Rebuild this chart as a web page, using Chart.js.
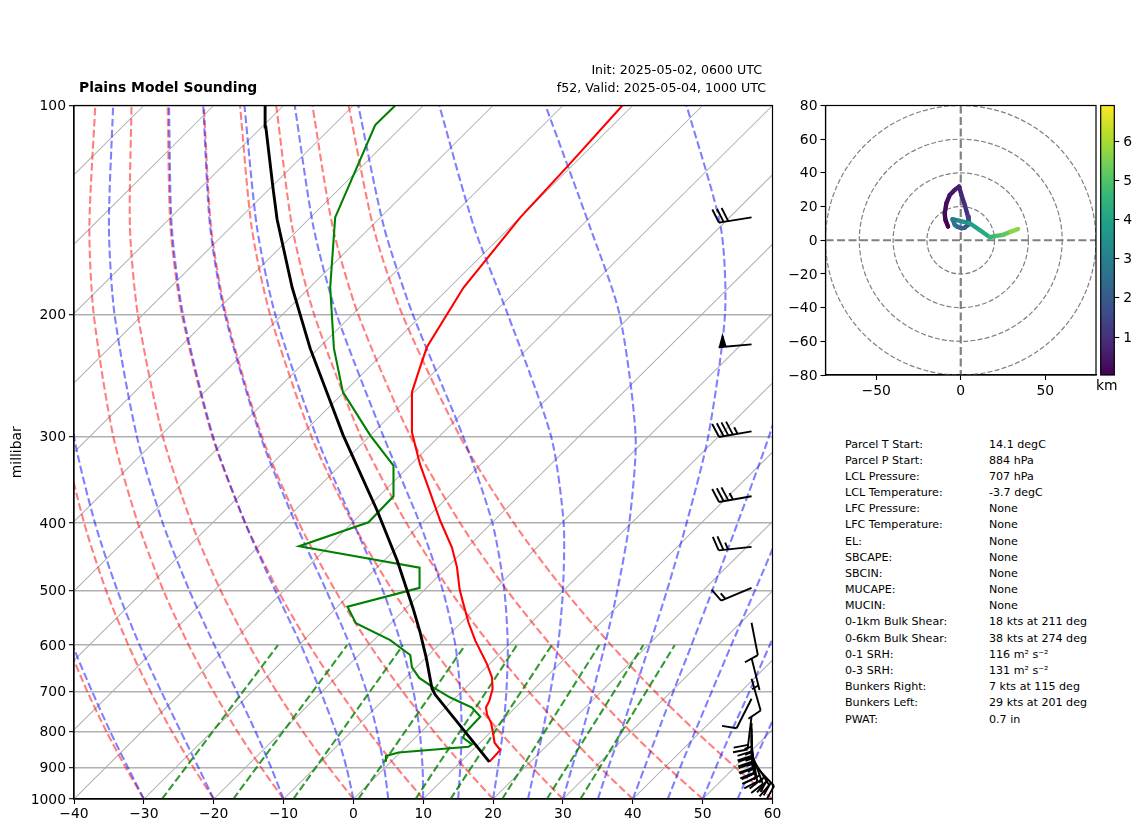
<!DOCTYPE html>
<html>
<head>
<meta charset="utf-8">
<script src="https://cdn.jsdelivr.net/npm/chart.js@4"></script>
<style>
    body { margin: 0; background: #fff; font-family: "DejaVu Sans", sans-serif; color: #000; }
    canvas { position: absolute; top: 0; }
    .txt { position: absolute; white-space: nowrap; }
</style>
</head>
<body>
<canvas id="skewChart" width="800" height="832" style="left:0"></canvas>
<canvas id="hodoChart" width="325" height="400" style="left:780px"></canvas>
<canvas id="barChart" width="52" height="400" style="left:1090px"></canvas>
<div class="txt" style="left:79px;top:79px;font-size:13.9px;font-weight:bold">Plains Model Sounding</div>
<div class="txt" style="right:380px;top:62px;font-size:12.6px">Init: 2025-05-02, 0600 UTC</div>
<div class="txt" style="right:376px;top:80px;font-size:12.6px">f52, Valid: 2025-05-04, 1000 UTC</div>
<div class="txt" style="left:1096px;top:377px;font-size:13.9px">km</div>
<div id="stats"></div>

<script>
// x values are read straight off the skewed bottom axis, not real temperature
const pressureTicks = [100, 200, 300, 400, 500, 600, 700, 800, 900, 1000];
const tempTicks = [-40, -30, -20, -10, 0, 10, 20, 30, 40, 50, 60];

const tempP = [884, 850, 829.5, 802, 776, 755, 738, 722, 694, 668, 639, 591, 557, 518, 498, 463, 434, 397, 351, 329, 296, 259, 238, 223, 183, 145, 122.6, 100];
const tempX = [19.46, 21.03, 20.21, 19.98, 19.7, 19.13, 18.98, 19.46, 19.93, 19.84, 19.13, 17.45, 16.49, 15.63, 15.2, 14.83, 14.11, 12.43, 10.53, 9.53, 8.38, 8.38, 9.57, 10.53, 15.77, 23.9, 30.59, 38.51];

const dewP = [884, 867, 857, 841, 834, 816, 802, 761, 738, 714, 691, 669, 646, 620, 590, 558, 528, 496, 464, 432, 399, 366, 330.5, 299, 259, 224, 183, 145, 106.7, 100];
const dewX = [4.66, 4.66, 6.46, 16.49, 16.98, 15.69, 16.02, 18.17, 16.98, 13.87, 11.48, 9.43, 8.38, 8.14, 5.27, 0.36, -0.85, 9.47, 9.47, -7.77, 2.16, 5.74, 5.74, 2.41, -1.5, -2.79, -3.32, -2.61, 3.12, 5.99];

const parcelP = [884, 707, 693, 626, 576, 532, 453, 384, 299, 260, 224, 183, 146, 132, 107.4, 100];
const parcelX = [19.46, 11.7, 11.25, 10.43, 9.57, 8.57, 6.27, 3.41, -1.46, -3.75, -6.19, -8.77, -10.92, -11.49, -12.54, -12.64];

// background curves, all share these levels
const curveLevels = [1000, 900, 800, 700, 600, 500, 400, 300, 200, 150, 100];
const dryAdiabats = [
    [-30, -32.63, -35.34, -38.09, -40.86, -43.62, -46.24, -48.56, -49.8, -49.42, -47.31],
    [-20, -22.93, -25.96, -29.06, -32.22, -35.42, -38.55, -41.47, -43.49, -43.61, -42.13],
    [-10, -13.23, -16.58, -20.03, -23.58, -27.22, -30.86, -34.38, -37.18, -37.8, -36.95],
    [0, -3.53, -7.2, -11, -14.94, -19.02, -23.17, -27.29, -30.87, -31.99, -31.77],
    [10, 6.17, 2.18, -1.97, -6.3, -10.82, -15.48, -20.2, -24.56, -26.18, -26.59],
    [20, 15.87, 11.56, 7.06, 2.34, -2.62, -7.79, -13.11, -18.25, -20.37, -21.41],
    [30, 25.57, 20.94, 16.09, 10.98, 5.58, -0.1, -6.02, -11.94, -14.56, -16.23],
    [40, 35.27, 30.32, 25.12, 19.62, 13.78, 7.59, 1.07, -5.63, -8.75, -11.05],
    [50, 44.97, 39.7, 34.15, 28.26, 21.98, 15.28, 8.16, 0.68, -2.94, -5.87],
    [60, 54.67, 49.08, 43.18, 36.9, 30.18, 22.97, 15.25, 6.99, 2.87, -0.69]
];
const moistAdiabats = [
    [-30, -32.3, -34.8, -37.4, -40.2, -42.9, -45.6, -47.9, -49.2, -48.9, -46.8],
    [-20, -22.2, -24.7, -27.5, -30.6, -33.8, -37, -40, -42.1, -42.4, -41],
    [-10, -11.8, -14, -16.7, -19.9, -23.5, -27.3, -31, -34.2, -35, -34.4],
    [0, -1, -2.5, -4.7, -7.5, -11.2, -15.5, -20.1, -24.4, -26, -26.4],
    [5, 4.4, 3.4, 1.9, -0.5, -3.9, -8.3, -13.3, -18.4, -20.5, -21.5],
    [10, 9.9, 9.5, 8.6, 6.9, 4.2, 0, -5.3, -11.2, -13.8, -15.6],
    [15, 15.3, 15.5, 15.3, 14.6, 12.8, 9.5, 4.3, -2.4, -5.7, -8.4],
    [20, 20.7, 21.4, 21.9, 22.1, 21.6, 19.9, 15.7, 8.5, 4.4, 0.7],
    [25, 26, 27.1, 28.2, 29.3, 30, 30.1, 28.3, 22.1, 17.3, 12.3],
    [30, 31.3, 32.8, 34.3, 36, 37.8, 39.5, 40.4, 38.1, 33.9, 27.5],
    [35, 36.5, 38.3, 40.2, 42.4, 44.9, 47.7, 50.8, 53.2, 52.6, 47.7],
    [40, 41.7, 43.6, 45.8, 48.4, 51.4, 55, 59.5, 65.1, 68.2, 69.8],
    [45, 46.8, 48.9, 51.3, 54.1, 57.5, 61.6, 66.9, 74.4, 79.4, 85.7],
    [50, 51.9, 54.1, 56.7, 59.6, 63.2, 67.7, 73.5, 81.9, 88, 96.4],
    [55, 57, 59.3, 61.9, 65, 68.7, 73.4, 79.6, 88.5, 95, 104.4]
];
// mixing ratio lines: bottom and top position
const mixingLevels = [1000, 600];
const mixingBottom = [-27.4, -17.2, -8.6, 0.7, 8.9, 13.9, 21.3, 27.7, 32.5];
const mixingTop = [-10.8, -0.9, 7.1, 16, 23.4, 28.4, 35.2, 41.5, 46];
// isotherms, x at 1000 hPa
const isotherms = [-130, -120, -110, -100, -90, -80, -70, -60, -50, -40, -30, -20, -10, 0, 10, 20, 30, 40, 50];

const barbP = [145, 221, 295, 366, 433, 496, 557, 626, 671, 717, 761, 777, 792, 808, 822, 836, 847, 858, 870, 884];
const barbSpeed = [30, 50, 45, 35, 25, 15, 10, 5, 10, 10, 20, 25, 25, 25, 25, 25, 25, 25, 25, 30];
const barbDir = [261, 265, 260, 260, 264, 247, 169, 166, 164, 207, 187, 180, 179, 178, 176, 173, 170, 160, 148, 137];

const hodoU = [-7.5, -9.07, -9.5, -8.48, -6.5, -3.55, -1, 0.39, 2.37, 4.3, 4.73, 4.3, 2.37, 0.4, -2.17, -3.5, -4.9, -0.6, 5.3, 11.2, 17.2, 21.1, 25, 29.4, 33.9];
const hodoV = [8.1, 12.1, 16, 22, 26.9, 29.9, 31.9, 26.9, 21, 14, 11.1, 9.1, 7.5, 7.1, 8.1, 9.1, 12.5, 11.5, 10.1, 6.1, 1.8, 2.6, 3.2, 5, 6.7];
const hodoKm = [0.05, 0.12, 0.2, 0.3, 0.4, 0.55, 0.7, 0.85, 1, 1.4, 1.6, 1.8, 2, 2.2, 2.4, 2.6, 3, 3.5, 3.9, 4.2, 4.6, 4.9, 5.2, 5.7, 6.1];
const hodoRings = [20, 40, 60, 80];
const hodoXTicks = [-50, 0, 50];
const kmTicks = [1, 2, 3, 4, 5, 6];

const statLabels = ["Parcel T Start:", "Parcel P Start:", "LCL Pressure:", "LCL Temperature:", "LFC Pressure:", "LFC Temperature:", "EL:", "SBCAPE:", "SBCIN:", "MUCAPE:", "MUCIN:", "0-1km Bulk Shear:", "0-6km Bulk Shear:", "0-1 SRH:", "0-3 SRH:", "Bunkers Right:", "Bunkers Left:", "PWAT:"];
const statValues = ["14.1 degC", "884 hPa", "707 hPa", "-3.7 degC", "None", "None", "None", "None", "None", "None", "None", "18 kts at 211 deg", "38 kts at 274 deg", "116 m² s⁻²", "131 m² s⁻²", "7 kts at 115 deg", "29 kts at 201 deg", "0.7 in"];

const viridis = ["#440154", "#482878", "#3e4989", "#31688e", "#26828e", "#1f9e89", "#35b779", "#6ece58", "#b5de2b", "#fde725"];
const kmMin = 0.03, kmMax = 6.91;

Chart.defaults.font.family = '"DejaVu Sans", sans-serif';
Chart.defaults.font.size = 13.9;
Chart.defaults.color = '#000';

const minusLabel = v => String(v).replace('-', '\u2212');
const toPoints = (xs, ps) => xs.map((x, i) => ({ x: x, y: ps[i] }));

function hexToRgb(h) {
    return [1, 3, 5].map(i => parseInt(h.substr(i, 2), 16));
}

function kmColor(km) {
    const f = Math.min(1, Math.max(0, (km - kmMin) / (kmMax - kmMin))) * (viridis.length - 1);
    const i = Math.min(viridis.length - 2, Math.floor(f));
    const a = hexToRgb(viridis[i]), b = hexToRgb(viridis[i + 1]);
    const c = a.map((v, n) => Math.round(v + (b[n] - v) * (f - i)));
    return `rgb(${c[0]},${c[1]},${c[2]})`;
}

// frame around the plot area, the axes only give two sides
const framePlugin = {
    id: 'frame',
    afterDraw(chart) {
        const a = chart.chartArea, ctx = chart.ctx;
        ctx.save();
        ctx.strokeStyle = '#000';
        ctx.lineWidth = 1.2;
        ctx.strokeRect(a.left, a.top, a.right - a.left, a.bottom - a.top);
        ctx.restore();
    }
};

function drawBarb(ctx, baseX, baseY, speed, dir) {
    const rad = dir * Math.PI / 180;
    const ux = Math.sin(rad), uy = -Math.cos(rad);
    const nx = -uy, ny = ux;
    const tipX = baseX + ux * 33, tipY = baseY + uy * 33;
    let flags = Math.floor(speed / 50);
    let full = Math.floor((speed % 50) / 10);
    let half = speed % 10 >= 5;
    let pos = 0;
    if (half && !flags && !full) pos = 4.7;

    ctx.beginPath();
    ctx.moveTo(baseX, baseY);
    ctx.lineTo(tipX, tipY);
    ctx.stroke();

    for (; flags > 0; flags--) {
        const ax = tipX - ux * pos, ay = tipY - uy * pos;
        ctx.beginPath();
        ctx.moveTo(ax, ay);
        ctx.lineTo(ax - ux * 5 + nx * 14, ay - uy * 5 + ny * 14);
        ctx.lineTo(ax - ux * 8, ay - uy * 8);
        ctx.closePath();
        ctx.fill();
        pos += 9;
    }
    for (; full > 0; full--) {
        const ax = tipX - ux * pos, ay = tipY - uy * pos;
        ctx.beginPath();
        ctx.moveTo(ax, ay);
        ctx.lineTo(ax + ux * 4.5 + nx * 14, ay + uy * 4.5 + ny * 14);
        ctx.stroke();
        pos += 4.7;
    }
    if (half) {
        const ax = tipX - ux * pos, ay = tipY - uy * pos;
        ctx.beginPath();
        ctx.moveTo(ax, ay);
        ctx.lineTo(ax + ux * 2.2 + nx * 7, ay + uy * 2.2 + ny * 7);
        ctx.stroke();
    }
}

const barbPlugin = {
    id: 'barbs',
    afterDatasetsDraw(chart) {
        const ctx = chart.ctx;
        const baseX = chart.scales.x.getPixelForValue(57);
        ctx.save();
        ctx.strokeStyle = '#000';
        ctx.fillStyle = '#000';
        ctx.lineWidth = 1.9;
        barbP.forEach((p, i) => {
            drawBarb(ctx, baseX, chart.scales.y.getPixelForValue(p), barbSpeed[i], barbDir[i]);
        });
        ctx.restore();
    }
};

const ringPlugin = {
    id: 'rings',
    beforeDatasetsDraw(chart) {
        const ctx = chart.ctx, a = chart.chartArea;
        const sx = chart.scales.x, sy = chart.scales.y;
        const cx = sx.getPixelForValue(0), cy = sy.getPixelForValue(0);
        ctx.save();
        ctx.beginPath();
        ctx.rect(a.left, a.top, a.right - a.left, a.bottom - a.top);
        ctx.clip();
        ctx.strokeStyle = '#808080';
        ctx.lineWidth = 1.2;
        ctx.setLineDash([5, 2.2]);
        hodoRings.forEach(r => {
            ctx.beginPath();
            ctx.ellipse(cx, cy, sx.getPixelForValue(r) - cx, cy - sy.getPixelForValue(r), 0, 0, Math.PI * 2);
            ctx.stroke();
        });
        ctx.lineWidth = 2.2;
        ctx.setLineDash([8, 3.5]);
        ctx.beginPath();
        ctx.moveTo(a.left, cy); ctx.lineTo(a.right, cy);
        ctx.moveTo(cx, a.top); ctx.lineTo(cx, a.bottom);
        ctx.stroke();
        ctx.restore();
    }
};

const colorBarPlugin = {
    id: 'colorBar',
    beforeDatasetsDraw(chart) {
        const ctx = chart.ctx, a = chart.chartArea;
        const grad = ctx.createLinearGradient(0, a.bottom, 0, a.top);
        viridis.forEach((c, i) => grad.addColorStop(i / (viridis.length - 1), c));
        ctx.fillStyle = grad;
        ctx.fillRect(a.left, a.top, a.right - a.left, a.bottom - a.top);
    }
};

function lineSet(points, color, width, dash, tension) {
    return {
        data: points, borderColor: color, borderWidth: width, borderDash: dash || [],
        tension: tension || 0, showLine: true, pointRadius: 0, fill: false
    };
}

const red = 'rgba(255,0,0,0.5)', blue = 'rgba(0,0,255,0.5)', mixGreen = 'rgba(0,128,0,0.8)';
const dash = [7.7, 3.3];

const skewSets = [
    lineSet(toPoints(parcelX, parcelP), '#000', 2.9),
    lineSet(toPoints(tempX, tempP), '#ff0000', 2.1),
    lineSet(toPoints(dewX, dewP), '#008000', 2.1)
];
mixingBottom.forEach((b, i) => skewSets.push(lineSet(toPoints([b, mixingTop[i]], mixingLevels), mixGreen, 2.1, dash)));
moistAdiabats.forEach(c => skewSets.push(lineSet(toPoints(c, curveLevels), blue, 2.1, dash, 0.25)));
dryAdiabats.forEach(c => skewSets.push(lineSet(toPoints(c, curveLevels), red, 2.1, dash, 0.25)));
isotherms.forEach(t => skewSets.push(lineSet(toPoints([t, t + 100], [1000, 100]), '#b0b0b0', 1.05)));

new Chart(document.getElementById('skewChart'), {
    type: 'scatter',
    data: { datasets: skewSets },
    options: {
        responsive: false, animation: false, events: [],
        layout: { padding: { top: 105.5, right: 27.5, left: 0, bottom: 0 } },
        plugins: { legend: { display: false }, tooltip: { enabled: false } },
        scales: {
            x: {
                type: 'linear', min: -40, max: 60,
                afterBuildTicks: s => { s.ticks = tempTicks.map(v => ({ value: v })); },
                afterFit: s => { s.height = 33; },
                grid: { drawOnChartArea: false, tickLength: 5, tickColor: '#000', tickWidth: 1.1 },
                border: { color: '#000', width: 1.2 },
                ticks: { callback: minusLabel, maxRotation: 0, autoSkip: false, padding: 2 }
            },
            y: {
                type: 'logarithmic', reverse: true, min: 100, max: 1000,
                afterBuildTicks: s => { s.ticks = pressureTicks.map(v => ({ value: v })); },
                afterFit: s => { s.width = 74; },
                grid: { color: '#b0b0b0', lineWidth: 1.4, tickLength: 5, tickColor: '#000', tickWidth: 1.1 },
                border: { color: '#000', width: 1.2 },
                title: { display: true, text: 'millibar', padding: { top: 9, bottom: 0 }, font: { size: 13.9 } },
                ticks: { callback: v => String(v), autoSkip: false, padding: 3, labelOffset: 1 }
            }
        }
    },
    plugins: [framePlugin, barbPlugin]
});

new Chart(document.getElementById('hodoChart'), {
    type: 'scatter',
    data: {
        datasets: [{
            data: toPoints(hodoU, hodoV), showLine: true, pointRadius: 0, borderWidth: 4.4, borderCapStyle: 'round',
            borderJoinStyle: 'round', borderColor: kmColor(hodoKm[0]),
            segment: { borderColor: c => kmColor(hodoKm[c.p0DataIndex]) }
        }]
    },
    options: {
        responsive: false, animation: false, events: [],
        layout: { padding: { top: 105.5, right: 9, left: 0, bottom: 0 } },
        plugins: { legend: { display: false }, tooltip: { enabled: false } },
        scales: {
            x: {
                type: 'linear', min: -80, max: 80,
                afterBuildTicks: s => { s.ticks = hodoXTicks.map(v => ({ value: v })); },
                afterFit: s => { s.height = 25; },
                grid: { drawOnChartArea: false, tickLength: 5, tickColor: '#000', tickWidth: 1.1 },
                border: { color: '#000', width: 1.2 },
                ticks: { callback: minusLabel, maxRotation: 0, autoSkip: false, padding: 3 }
            },
            y: {
                type: 'linear', min: -80, max: 80,
                afterFit: s => { s.width = 45.5; },
                grid: { drawOnChartArea: false, tickLength: 5, tickColor: '#000', tickWidth: 1.1 },
                border: { color: '#000', width: 1.2 },
                ticks: { stepSize: 20, callback: minusLabel, autoSkip: false, padding: 3, labelOffset: 1 }
            }
        }
    },
    plugins: [ringPlugin, framePlugin]
});

new Chart(document.getElementById('barChart'), {
    type: 'scatter',
    data: { datasets: [{ data: [] }] },
    options: {
        responsive: false, animation: false, events: [],
        layout: { padding: { top: 105.5, left: 10.7, right: 0, bottom: 25 } },
        plugins: { legend: { display: false }, tooltip: { enabled: false } },
        scales: {
            x: { type: 'linear', display: false },
            y: {
                type: 'linear', position: 'right', min: kmMin, max: kmMax,
                afterBuildTicks: s => { s.ticks = kmTicks.map(v => ({ value: v })); },
                afterFit: s => { s.width = 27.7; },
                grid: { drawOnChartArea: false, tickLength: 5, tickColor: '#000', tickWidth: 1.1 },
                border: { display: false },
                ticks: { callback: v => String(v), autoSkip: false, padding: 4, labelOffset: 1 }
            }
        }
    },
    plugins: [colorBarPlugin, framePlugin]
});

const stats = document.getElementById('stats');
statLabels.forEach((label, i) => {
    const top = 437.5 + i * 16.18;
    stats.innerHTML += `<div class="txt" style="left:845px;top:${top}px;font-size:11.1px">${label}</div>` +
        `<div class="txt" style="left:989px;top:${top}px;font-size:11.1px">${statValues[i]}</div>`;
});
</script>
</body>
</html>
